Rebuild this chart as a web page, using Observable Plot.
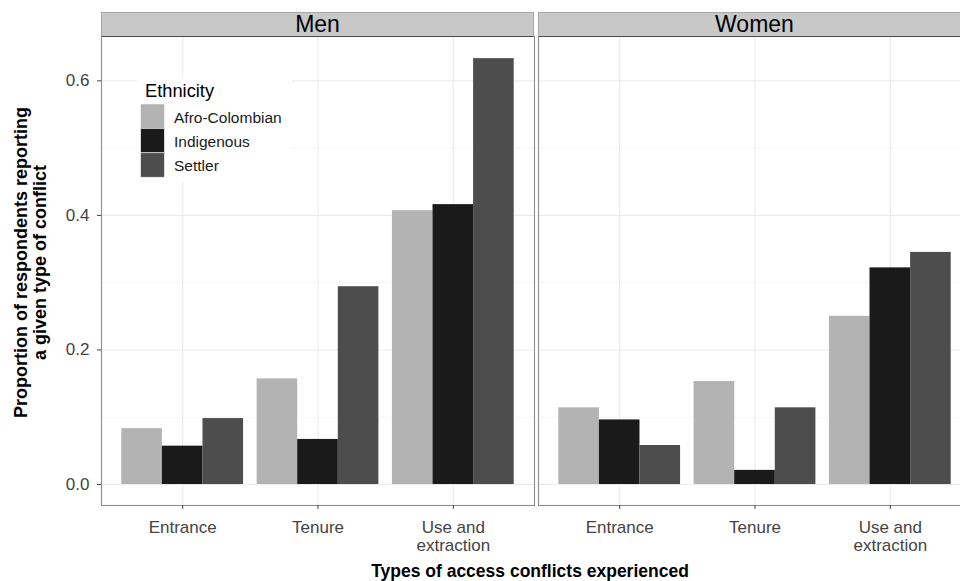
<!DOCTYPE html>
<html>
<head>
<meta charset="utf-8">
<script src="https://cdn.jsdelivr.net/npm/d3@7"></script>
<script src="https://cdn.jsdelivr.net/npm/@observablehq/plot@0.6"></script>
<style>
  html, body { margin: 0; padding: 0; background: #fff; }
  #chart { position: relative; width: 960px; height: 581px; overflow: hidden; background: #fff;
           font-family: "Liberation Sans", Arial, sans-serif; }
  .panel { position: absolute; top: 0; }
  .strip { position: absolute; top: 12px; height: 25px; box-sizing: border-box;
           background: #c8c8c8; border: 1px solid #a8a8a8; border-bottom: 1px solid #4d4d4d;
           text-align: center; font-size: 23px; line-height: 23px; color: #000; }
  #overlay { position: absolute; left: 0; top: 0; pointer-events: none; }
</style>
</head>
<body>
<div id="chart"></div>
<script>
// ---- data ----
const types = ["Entrance", "Tenure", "Use and extraction"];
const typeLabels = ["Entrance", "Tenure", "Use and\nextraction"];
const ethnicities = ["Afro-Colombian", "Indigenous", "Settler"];
const ethColors = ["#b3b3b3", "#1a1a1a", "#4d4d4d"];
const sexes = ["Men", "Women"];

// values per ethnicity, in the order of `types`
const menAfro     = [0.083, 0.157, 0.407];
const menIndig    = [0.057, 0.067, 0.416];
const menSettler  = [0.098, 0.294, 0.633];
const womenAfro    = [0.114, 0.153, 0.250];
const womenIndig   = [0.096, 0.021, 0.322];
const womenSettler = [0.058, 0.114, 0.345];

const yTicks = [0, 0.2, 0.4, 0.6];
const yMinor = [0.1, 0.3, 0.5];

const yLabelLines = ["Proportion of respondents reporting", "a given type of conflict"];
const xLabel = "Types of access conflicts experienced";
const legendTitle = "Ethnicity";

function rows(series) {
  const out = [];
  types.forEach((t, i) => ethnicities.forEach((e, j) => out.push({type: t, eth: e, value: series[j][i]})));
  return out;
}

const H = 581, TOP = 36, BOTTOM = 505, PANEL_W = 433;
const yDomain = [-0.0312, 0.6659];
const fontFamily = "'Liberation Sans', Arial, sans-serif";

function layout(marginLeft, marginRight) {
  return {
    width: marginLeft + PANEL_W + marginRight,
    height: H, marginTop: TOP, marginBottom: H - BOTTOM, marginLeft, marginRight,
    style: {fontFamily, background: "transparent", overflow: "visible"}
  };
}

function panel(series, {left, marginLeft, marginRight, withYAxis}) {
  const data = rows(series);
  // background layer: horizontal grid, panel border, y axis
  const backMarks = [
    Plot.ruleY(yMinor, {stroke: "#ececec", strokeWidth: 0.6}),
    Plot.ruleY(yTicks, {stroke: "#ebebeb", strokeWidth: 1.1}),
    Plot.frame({stroke: "#8c8c8c", strokeWidth: 1.1})
  ];
  if (withYAxis) {
    backMarks.push(Plot.axisY({anchor: "left", ticks: yTicks, tickFormat: d3.format(".1f"),
                               tickSize: 4, tickPadding: 8, fontSize: 17, label: null, color: "#444"}));
  }
  const back = Plot.plot({
    ...layout(marginLeft, marginRight),
    x: {domain: [0, 1], axis: null},
    y: {domain: yDomain, axis: null},
    marks: backMarks
  });
  // front layer: grouped bars faceted by conflict type
  const front = Plot.plot({
    ...layout(marginLeft, marginRight),
    fx: {domain: types, paddingInner: 0.1, paddingOuter: 0.15, round: false, label: null},
    x: {domain: ethnicities, padding: 0, round: false, axis: null},
    y: {domain: yDomain, axis: null},
    color: {domain: ethnicities, range: ethColors},
    marks: [
      Plot.ruleX(types, {fx: d => d, x: () => ethnicities[1], stroke: "#ebebeb", strokeWidth: 1.1}),
      Plot.barY(data, {fx: "type", x: "eth", y: "value", fill: "eth"}),
      Plot.axisFx({anchor: "bottom", label: null, tickSize: 4, tickPadding: 10, fontSize: 17,
                   lineHeight: 1.08, color: "#444",
                   tickFormat: d => typeLabels[types.indexOf(d)]})
    ]
  });
  [back, front].forEach(svg => {
    svg.classList.add("panel");
    svg.style.left = left + "px";
    chart.appendChild(svg);
  });
}

const chart = document.getElementById("chart");
panel([menAfro, menIndig, menSettler], {left: 0, marginLeft: 101, marginRight: 4, withYAxis: true});
panel([womenAfro, womenIndig, womenSettler], {left: 533, marginLeft: 5, marginRight: 5, withYAxis: false});

// strips
[[sexes[0], 101], [sexes[1], 538]].forEach(([label, left]) => {
  const s = document.createElement("div");
  s.className = "strip";
  s.style.left = left + "px";
  s.style.width = PANEL_W + "px";
  s.textContent = label;
  chart.appendChild(s);
});

// overlay: legend and axis titles
const svg = d3.select(chart).append("svg").attr("id", "overlay").attr("width", 960).attr("height", H)
  .style("font-family", fontFamily);

const lg = svg.append("g");
lg.append("rect").attr("x", 137).attr("y", 78).attr("width", 155).attr("height", 104).attr("fill", "#fff");
lg.append("text").attr("x", 145).attr("y", 97.3).attr("font-size", 18.3).attr("fill", "#000").text(legendTitle);
ethnicities.forEach((e, i) => {
  lg.append("rect").attr("x", 140.7).attr("y", 104 + i * 24.4).attr("width", 23.6).attr("height", 24.4)
    .attr("fill", ethColors[i]).attr("stroke", "#f0f0f0").attr("stroke-width", 0.6);
  lg.append("text").attr("x", 174).attr("y", 122.5 + i * 24.3).attr("font-size", 15.5).attr("fill", "#1a1a1a").text(e);
});

yLabelLines.forEach((line, i) => {
  svg.append("text").attr("transform", `translate(${26.5 + i * 19.8},262.4) rotate(-90)`)
    .attr("text-anchor", "middle").attr("font-size", 18).attr("font-weight", "bold").attr("fill", "#000").text(line);
});
svg.append("text").attr("x", 530).attr("y", 576.5).attr("text-anchor", "middle")
  .attr("font-size", 17.5).attr("font-weight", "bold").attr("fill", "#000").text(xLabel);
</script>
</body>
</html>
